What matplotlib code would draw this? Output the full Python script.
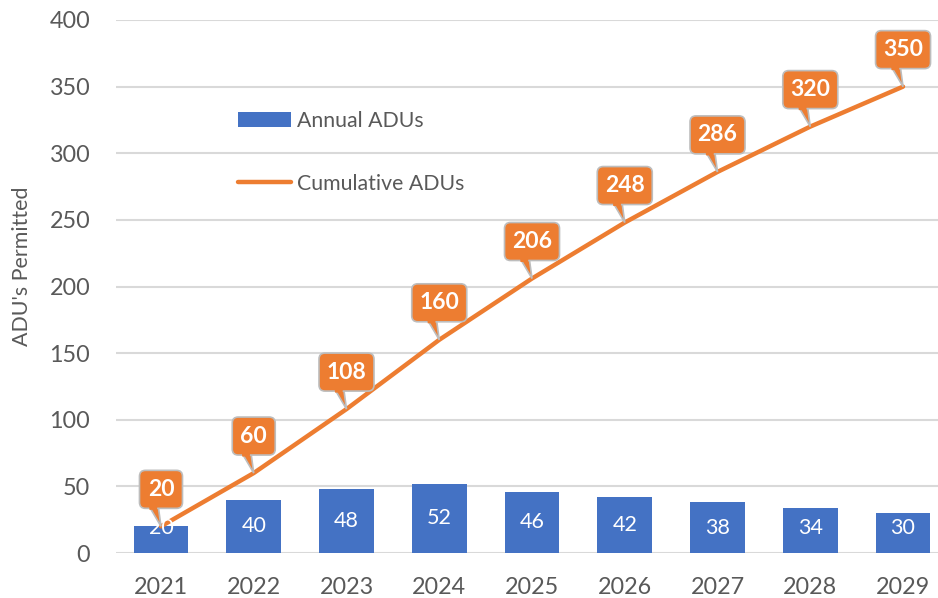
import matplotlib
matplotlib.use('Agg')
import matplotlib.pyplot as plt
import matplotlib.transforms as mtrans
from matplotlib.patches import FancyBboxPatch, Polygon

plt.rcParams['font.family'] = ['Lato', 'DejaVu Sans']

years = ['2021', '2022', '2023', '2024', '2025', '2026', '2027', '2028', '2029']
annual = [20, 40, 48, 52, 46, 42, 38, 34, 30]
cumulative = [20, 60, 108, 160, 206, 248, 286, 320, 350]

blue = '#4472C4'
orange = '#ED7D31'
grey_txt = '#595959'
grid_c = '#D9D9D9'
callout_edge = '#BDBDBD'

W, H = 938, 598
fig = plt.figure(figsize=(W / 100, H / 100), dpi=100)
ax = fig.add_axes([116 / W, (H - 553) / H, (W - 116) / W, 533 / H])

x = list(range(len(years)))
bars = ax.bar(x, annual, width=0.59, color=blue, zorder=2, label='Annual ADUs')
line, = ax.plot(x, cumulative, color=orange, lw=3.2, zorder=3,
                label='Cumulative ADUs', solid_capstyle='round')

# bar labels (centred, but kept clear of the axis for short bars)
for xi, v in zip(x, annual):
    ax.text(xi, max(v / 2, 19), str(v), ha='center', va='center',
            color='white', fontsize=15.5, zorder=4)

# callouts above the cumulative points
for xi, v in zip(x, cumulative):
    tr = fig.dpi_scale_trans + mtrans.ScaledTranslation(xi, v, ax.transData)
    s = str(v)
    w = 0.19 + 0.12 * len(s)
    box_b, box_h = 0.18, 0.38
    ptr = Polygon([(-0.13, box_b + 0.04), (-0.03, box_b + 0.04), (0.0, 0.0)],
                  closed=True, fc=orange, ec=callout_edge, lw=1.2,
                  transform=tr, zorder=5)
    ax.add_patch(ptr)
    box = FancyBboxPatch((-w / 2, box_b), w, box_h,
                         boxstyle='round,pad=0,rounding_size=0.06',
                         fc=orange, ec=callout_edge, lw=1.2,
                         transform=tr, zorder=6)
    ax.add_patch(box)
    cover = Polygon([(-0.12, box_b + 0.03), (-0.035, box_b + 0.03),
                     (-0.04, box_b - 0.015), (-0.115, box_b - 0.015)],
                    closed=True, fc=orange, ec='none', transform=tr, zorder=7)
    ax.add_patch(cover)
    ax.text(0, box_b + box_h / 2, s, transform=tr, ha='center', va='center',
            color='white', fontsize=16.5, fontweight='bold', zorder=8)

ax.set_xlim(-0.485, 8.377)
ax.set_ylim(0, 400)
ax.set_yticks(range(0, 401, 50))
ax.set_xticks(x)
ax.set_xticklabels(years)
ax.yaxis.grid(True, color=grid_c, lw=1.5, zorder=0)
ax.set_axisbelow(True)
for sp in ax.spines.values():
    sp.set_visible(False)
ax.tick_params(axis='both', length=0, labelsize=16.8, labelcolor=grey_txt)
ax.tick_params(axis='y', pad=18.5)
ax.tick_params(axis='x', pad=17)

fig.text(22 / W, 1 - 266 / H, "ADU's Permitted", rotation=90, ha='center',
         va='center', fontsize=15.4, color=grey_txt)

leg = ax.legend([bars, line], ['Annual ADUs', 'Cumulative ADUs'],
                loc='upper left', bbox_to_anchor=(238 / W, 1 - 111 / H),
                bbox_transform=fig.transFigure, frameon=False, borderpad=0,
                fontsize=15.3, handlelength=2.5, handletextpad=0.28,
                labelspacing=2.0, borderaxespad=0)
for t in leg.get_texts():
    t.set_color(grey_txt)

fig.savefig('out.png', dpi=100)
